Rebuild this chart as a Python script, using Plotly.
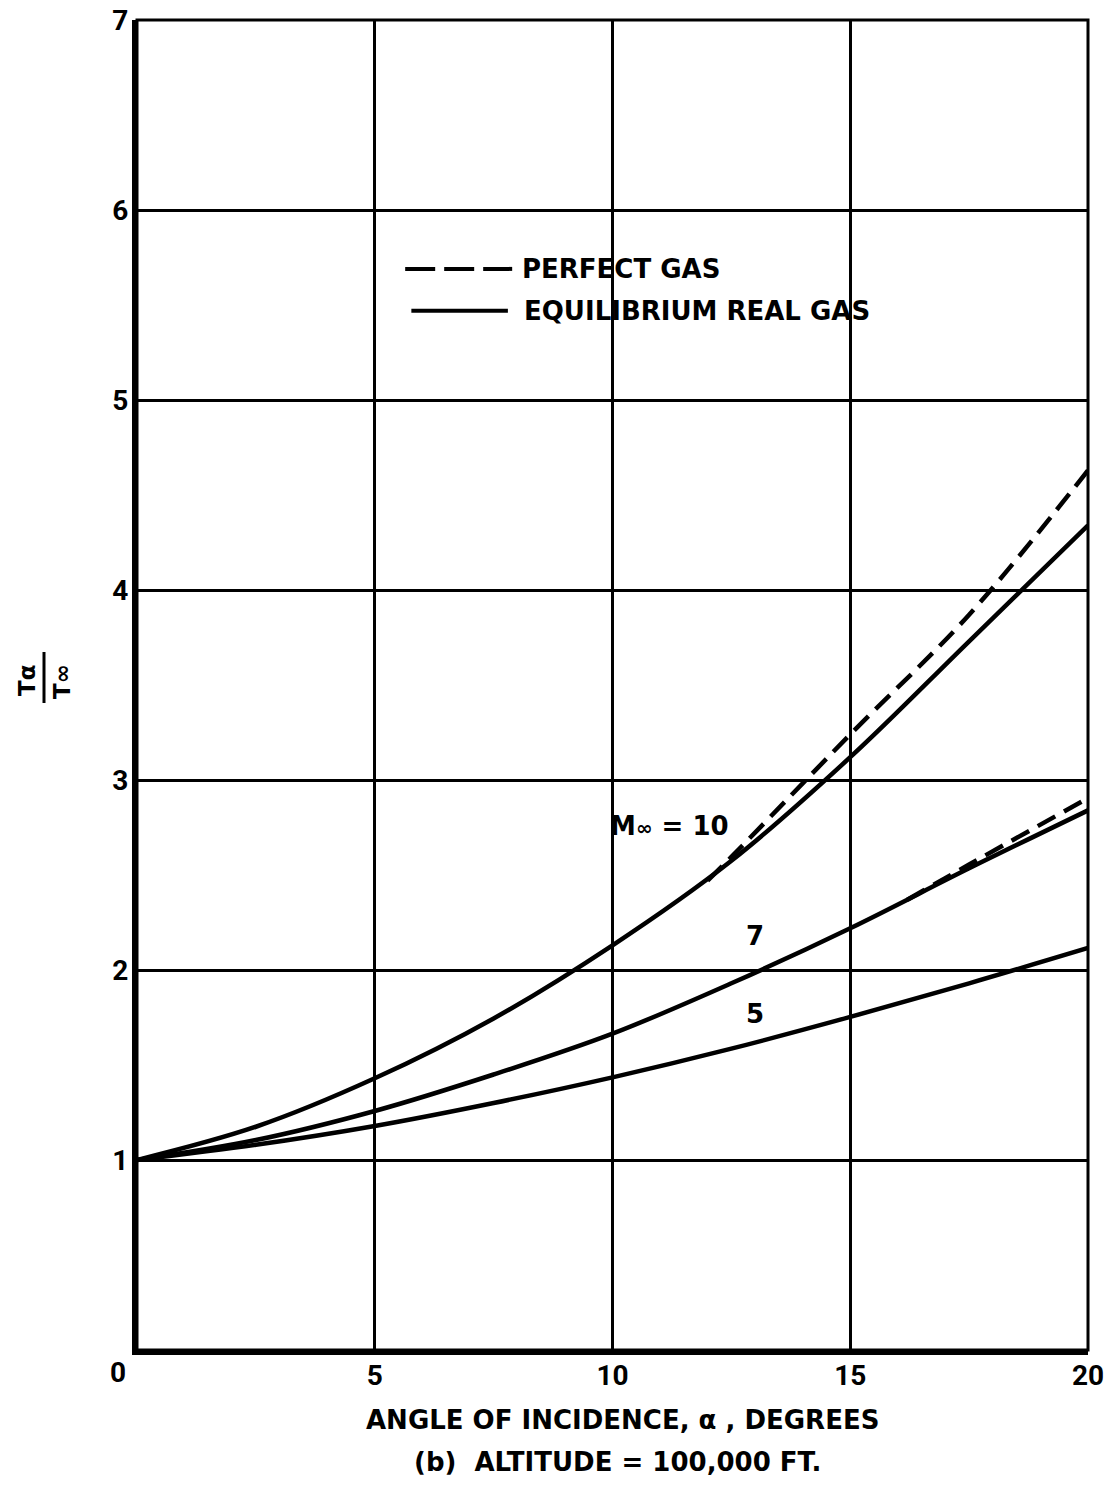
import plotly.graph_objects as go

# ---- data ----
alpha = [0, 2.5, 5, 7.5, 10, 12.5, 15, 17.5, 20]
m10_real = [1.0, 1.175, 1.43, 1.745, 2.13, 2.575, 3.12, 3.73, 4.34]
m7_real = [1.0, 1.105, 1.258, 1.45, 1.665, 1.93, 2.22, 2.535, 2.84]
m5_real = [1.0, 1.08, 1.179, 1.30, 1.435, 1.586, 1.753, 1.93, 2.116]

alpha_m10_perfect = [12.0, 12.5, 15, 17.5, 20]
m10_perfect = [2.47, 2.595, 3.24, 3.87, 4.63]
alpha_m7_perfect = [16.2, 17.5, 20]
m7_perfect = [2.37, 2.555, 2.905]

x_ticks = [5, 10, 15, 20]
y_ticks = [1, 2, 3, 4, 5, 6, 7]

TXT = "DejaVu Sans"
NUM = "Roboto"
BLACK = "black"

W, H = 1108, 1488
L, R, T, B = 137, 20, 20, 138
PW, PH = W - L - R, H - T - B


def px(x_screen):
    return (x_screen - L) / PW


def py(y_screen):
    return (H - B - y_screen) / PH


fig = go.Figure()


def add_curve(x, y, dash="solid"):
    fig.add_trace(go.Scatter(
        x=x, y=y, mode="lines",
        line=dict(color=BLACK, width=4.5, dash=dash, shape="spline", smoothing=1.0),
        showlegend=False, hoverinfo="skip"))


add_curve(alpha, m10_real)
add_curve(alpha, m7_real)
add_curve(alpha, m5_real)
add_curve(alpha_m10_perfect, m10_perfect, dash="20px,10px")
add_curve(alpha_m7_perfect, m7_perfect, dash="20px,10px")

tickfont = dict(family=NUM, size=28, color=BLACK, weight="bold")
fig.update_xaxes(
    range=[0, 20], tickvals=x_ticks, ticks="", showgrid=True, gridcolor=BLACK,
    gridwidth=3, showline=True, linecolor=BLACK, linewidth=5, zeroline=False,
    automargin=False, tickfont=tickfont, ticklabelstandoff=-4,
    ticklabeloverflow="allow")
fig.update_yaxes(
    range=[0, 7], tickvals=y_ticks, ticks="", showgrid=True, gridcolor=BLACK,
    gridwidth=3, showline=True, linecolor=BLACK, linewidth=5, zeroline=False,
    automargin=False, tickfont=tickfont, ticklabelstandoff=-2,
    ticklabeloverflow="allow")

shapes = [
    dict(type="rect", xref="paper", yref="paper", x0=0, y0=0, x1=1, y1=1,
         line=dict(color=BLACK, width=3)),
    # legend samples
    dict(type="line", x0=5.64, x1=7.89, y0=5.69, y1=5.69,
         line=dict(color=BLACK, width=4, dash="30px,9px")),
    dict(type="line", x0=5.77, x1=7.80, y0=5.47, y1=5.47,
         line=dict(color=BLACK, width=4)),
    # y title fraction bar
    dict(type="line", xref="paper", yref="paper", x0=px(44), x1=px(44),
         y0=py(652), y1=py(703), line=dict(color=BLACK, width=3)),
]

f_txt = dict(family=TXT, size=26, color=BLACK, weight="bold")
annotations = [
    dict(x=8.05, y=5.69, text="PERFECT GAS", xanchor="left", yanchor="middle",
         showarrow=False, font=f_txt),
    dict(x=8.10, y=5.47, text="EQUILIBRIUM REAL GAS", xanchor="left",
         yanchor="middle", showarrow=False, font=f_txt),
    dict(x=11.2, y=2.76,
         text="M<span style='font-size:20px'>∞</span> = 10",
         showarrow=False, font=f_txt),
    dict(x=13.0, y=2.18, text="7", showarrow=False, font=f_txt),
    dict(x=13.0, y=1.77, text="5", showarrow=False, font=f_txt),
    dict(x=0, y=0, xref="x", yref="y", text="0", showarrow=False,
         xanchor="center", yanchor="middle", xshift=-19, yshift=-22,
         font=tickfont),
    dict(xref="paper", yref="paper", x=px(622), y=py(1420), yanchor="middle",
         text="ANGLE OF INCIDENCE, α , DEGREES", showarrow=False,
         font=dict(family=TXT, size=26, color=BLACK, weight="bold")),
    dict(xref="paper", yref="paper", x=px(617), y=py(1462), yanchor="middle",
         text="(b)  ALTITUDE = 100,000 FT.", showarrow=False,
         font=dict(family=TXT, size=26, color=BLACK, weight="bold")),
    # y-axis title fraction Tα / T∞, rotated
    dict(xref="paper", yref="paper", x=px(27), y=py(680), text="<b>Tα</b>",
         textangle=-90, showarrow=False, xanchor="center", yanchor="middle",
         font=dict(family=TXT, size=23, color=BLACK)),
    dict(xref="paper", yref="paper", x=px(62), y=py(682), text="<b>T∞</b>",
         textangle=-90, showarrow=False, xanchor="center", yanchor="middle",
         font=dict(family=TXT, size=23, color=BLACK)),
]

fig.update_layout(
    width=W, height=H,
    margin=dict(l=L, r=R, t=T, b=B, autoexpand=False),
    plot_bgcolor="white", paper_bgcolor="white",
    shapes=shapes, annotations=annotations, showlegend=False)

fig.write_html(
    "out.html",
    config={"displayModeBar": False},
    post_script="document.body.style.margin='0';document.body.style.overflow='hidden';")
